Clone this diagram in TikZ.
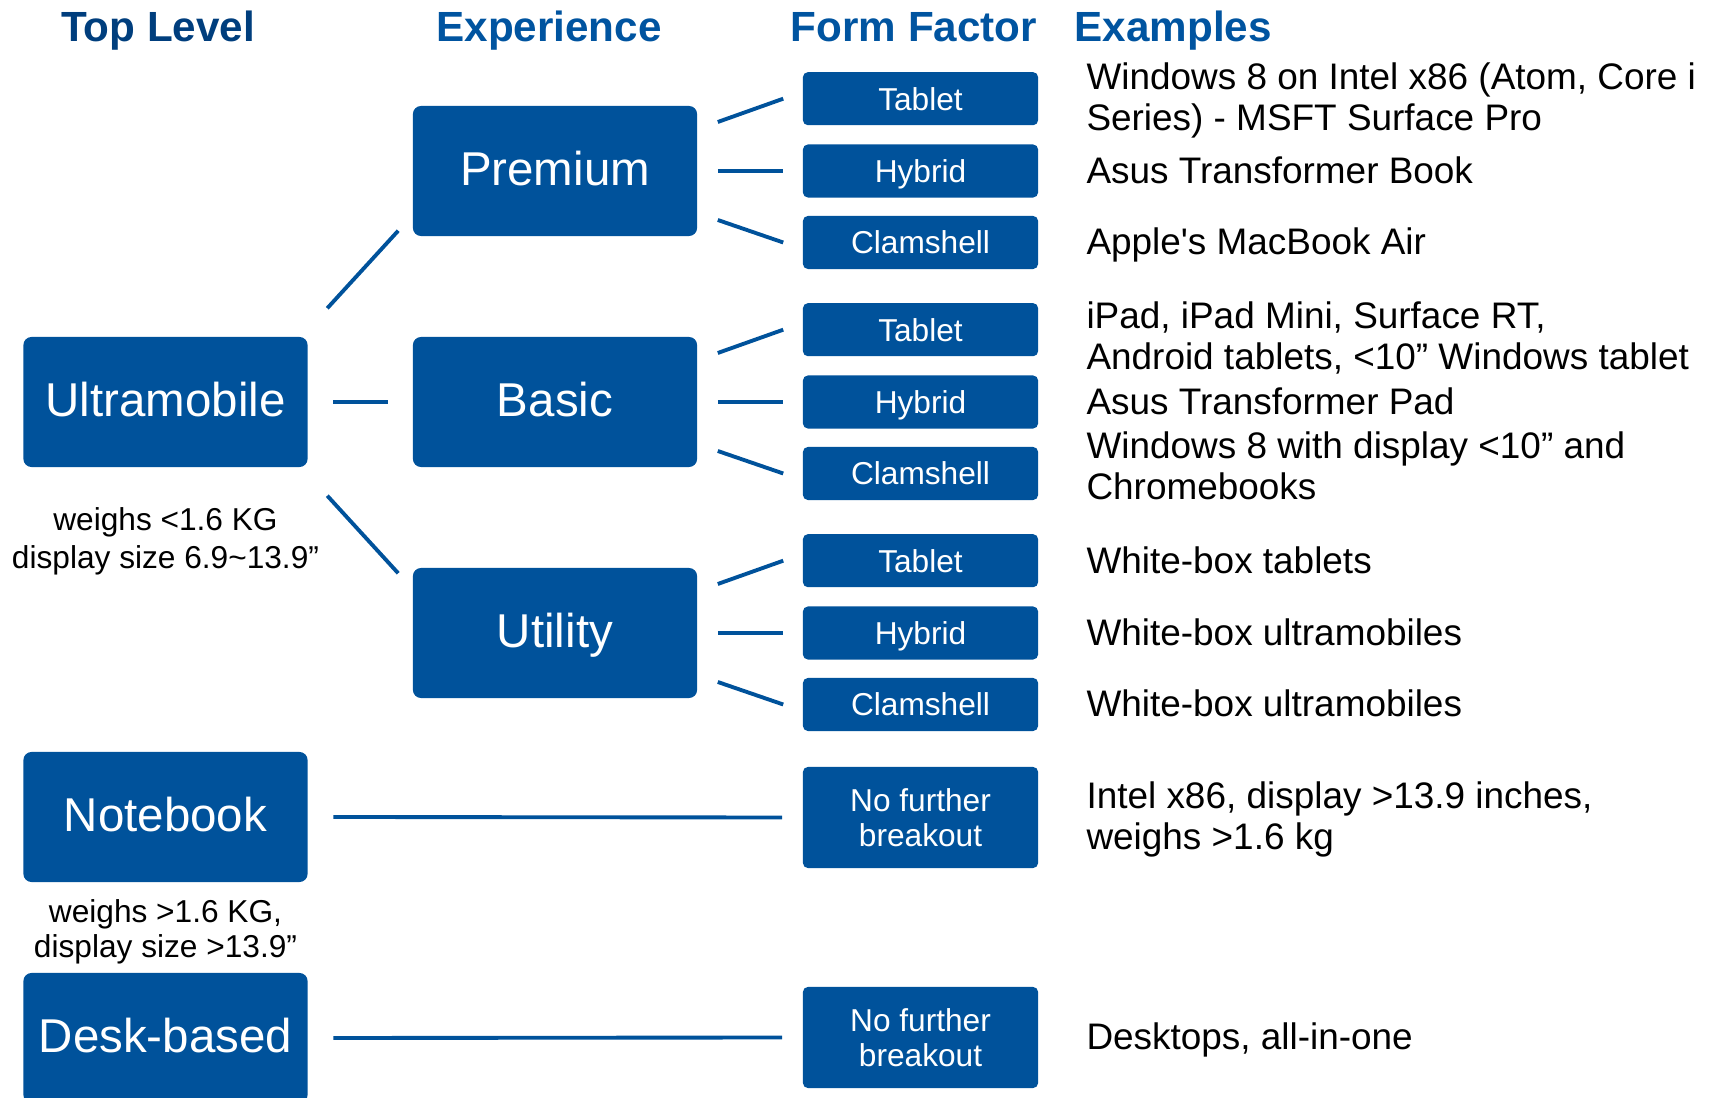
\documentclass[tikz,border=0pt]{standalone}
\usepackage{fontspec}
\setmainfont{Liberation Sans}
\usetikzlibrary{positioning}

\definecolor{boxblue}{RGB}{0,82,155}
\definecolor{headblue}{RGB}{0,84,160}
\definecolor{topblue}{RGB}{0,62,125}

\begin{document}
\begin{tikzpicture}[x=0.01cm, y=-0.01cm,
    bigbox/.style={fill=boxblue, rounded corners=2.3pt, text=white, inner sep=0pt,
        text height=8.5pt, text depth=0pt,
        minimum width=2.84cm, minimum height=1.30cm, font=\fontsize{13.5}{16}\selectfont},
    ffbox/.style={fill=boxblue, rounded corners=1.4pt, text=white, inner sep=0pt,
        text height=6.45pt, text depth=0pt,
        minimum width=2.35cm, minimum height=0.53cm, font=\fontsize{9}{10}\selectfont},
    brkbox/.style={fill=boxblue, rounded corners=1.4pt, text=white, inner sep=0pt,
        minimum width=2.35cm, minimum height=1.01cm, align=center,
        font=\fontsize{9}{10}\selectfont},
    example/.style={inner sep=0pt, align=left, font=\fontsize{10.5}{11.6}\selectfont},
    oneline/.style={text height=7pt, text depth=0pt},
    remark/.style={inner sep=0pt, align=center, font=\fontsize{9}{10.8}\selectfont},
    heading/.style={anchor=base, inner sep=0pt, text=headblue,
        font=\fontsize{12}{14}\selectfont\bfseries},
    link/.style={draw=boxblue, line width=1.1pt}]

\useasboundingbox (0,0) rectangle (1718,1098);

% Column headings
\node[heading, text=topblue] (hd-top) at (158,42) {Top Level};
\node[heading] (hd-exp) at (549,42) {Experience};
\node[heading] (hd-ff) at (914,42) {Form Factor};
\node[heading, anchor=base west] (hd-ex) at (1074,42) {Examples};

% Top level
\node[bigbox] (ultra) at (165.5,402) {Ultramobile};
\node[bigbox] (nbook) at (165.5,817) {Notebook};
\node[bigbox] (desk) at (165.5,1038) {Desk-based};
\node[remark] (ultra-rm) at (165.5,541) {weighs <1.6 KG\\display size 6.9\textasciitilde13.9”};
\node[remark, font=\fontsize{9}{10}\selectfont] (nbook-rm) at (165.5,932)
    {weighs >1.6 KG,\\display size >13.9”};

% Experience and form factor
\foreach \e/\lbl/\y in {prem/Premium/171, basic/Basic/402, util/Utility/633} {
    \node[bigbox] (\e) at (555,\y) {\lbl};
    \node[ffbox] (\e-tab) at (920.5,\y-72.3) {Tablet};
    \node[ffbox] (\e-hyb) at (920.5,\y) {Hybrid};
    \node[ffbox] (\e-clam) at (920.5,\y+71.5) {Clamshell};
    \draw[link] ([shift={(20,-49)}]\e.east) -- ([shift={(-19,0)}]\e-tab.west);
    \draw[link] ([shift={(20,0)}]\e.east) -- ([shift={(-19,0)}]\e-hyb.west);
    \draw[link] ([shift={(20,49)}]\e.east) -- ([shift={(-19,0)}]\e-clam.west);
}
\node[brkbox] (nbook-brk) at (920.5,817.5) {No further\\breakout};
\node[brkbox] (desk-brk) at (920.5,1037.5) {No further\\breakout};

\draw[link] ([shift={(19,-28)}]ultra.north east) -- ([shift={(-14,-6)}]prem.south west);
\draw[link] ([shift={(25,0)}]ultra.east) -- ([shift={(-24,0)}]basic.west);
\draw[link] ([shift={(19,28)}]ultra.south east) -- ([shift={(-14,6)}]util.north west);
\draw[link] ([shift={(25,0)}]nbook.east) -- ([shift={(-20,0)}]nbook-brk.west);
\draw[link] ([shift={(25,0)}]desk.east) -- ([shift={(-20,0)}]desk-brk.west);

% Examples
\node[example, right=0.47cm of prem-tab, yshift=-0.5pt] (ex-prem-tab)
    {Windows 8 on Intel x86 (Atom, Core i\\Series) - MSFT Surface Pro};
\node[example, oneline, right=0.47cm of prem-hyb] (ex-prem-hyb) {Asus Transformer Book};
\node[example, oneline, right=0.47cm of prem-clam] (ex-prem-clam)
    {Apple\textquotesingle s MacBook Air};
\node[example, right=0.47cm of basic-tab, yshift=-2.4pt] (ex-basic-tab)
    {iPad, iPad Mini, Surface RT,\\Android tablets, <10” Windows tablet};
\node[example, oneline, right=0.47cm of basic-hyb] (ex-basic-hyb) {Asus Transformer Pad};
\node[example, right=0.47cm of basic-clam, yshift=2.1pt] (ex-basic-clam)
    {Windows 8 with display <10” and\\Chromebooks};
\node[example, oneline, right=0.47cm of util-tab] (ex-util-tab) {White-box tablets};
\node[example, oneline, right=0.47cm of util-hyb] (ex-util-hyb) {White-box ultramobiles};
\node[example, oneline, right=0.47cm of util-clam] (ex-util-clam) {White-box ultramobiles};
\node[example, right=0.47cm of nbook-brk, yshift=-0.5pt] (ex-nbook)
    {Intel x86, display >13.9 inches,\\weighs >1.6 kg};
\node[example, oneline, right=0.47cm of desk-brk] (ex-desk) {Desktops, all-in-one};
\end{tikzpicture}
\end{document}
